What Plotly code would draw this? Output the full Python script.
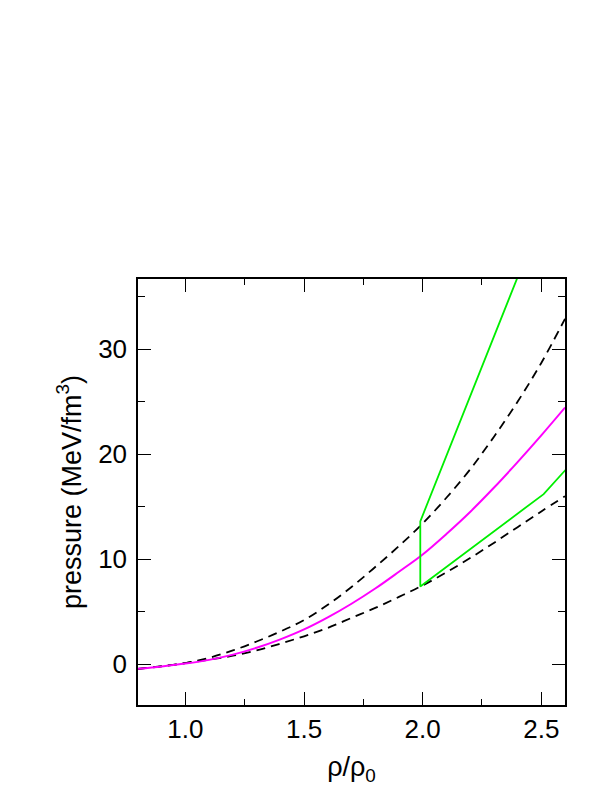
import plotly.graph_objects as go

# density grid (rho/rho0) for the smooth curves
rho = [0.8, 0.9, 1.0, 1.1, 1.2, 1.3, 1.4, 1.5, 1.6, 1.7, 1.8, 1.9,
       2.0, 2.1, 2.2, 2.3, 2.4, 2.5, 2.6]

# pressure in MeV/fm^3
p_mid = [-0.45, -0.22, 0.05, 0.4, 0.9, 1.55, 2.35, 3.3, 4.45, 5.75, 7.2, 8.8,
         10.45, 12.4, 14.5, 16.8, 19.25, 21.8, 24.45]
p_upper = [-0.45, -0.2, 0.1, 0.6, 1.3, 2.15, 3.1, 4.2, 5.65, 7.35, 9.25, 11.25,
           13.4, 15.85, 18.55, 21.65, 25.0, 28.7, 32.9]
p_lower = [-0.45, -0.22, 0.1, 0.42, 0.8, 1.3, 1.95, 2.65, 3.45, 4.4, 5.35, 6.4,
           7.5, 8.75, 10.1, 11.55, 13.05, 14.55, 16.0]

# green piecewise band (runs off the top / right edge)
green_rho = [2.45, 1.99, 1.99, 2.51, 2.65]
green_p = [39.7, 13.6, 7.4, 16.2, 19.7]

fig = go.Figure()

dash = dict(color='black', width=1.8, dash='9px,6px', shape='spline')
fig.add_trace(go.Scatter(x=rho, y=p_upper, mode='lines', line=dash))
fig.add_trace(go.Scatter(x=rho, y=p_lower, mode='lines', line=dash))
fig.add_trace(go.Scatter(x=rho, y=p_mid, mode='lines',
                         line=dict(color='#ff00ff', width=2, shape='spline')))
fig.add_trace(go.Scatter(x=green_rho, y=green_p, mode='lines',
                         line=dict(color='#00ee00', width=1.8)))

axis_style = dict(showline=True, linecolor='black', linewidth=1.5, mirror='ticks',
                  ticks='inside', tickcolor='black', tickwidth=1.3, ticklen=13,
                  showgrid=False, zeroline=False,
                  tickfont=dict(family='Liberation Sans', size=26, color='black'))

fig.update_xaxes(range=[0.8, 2.6], dtick=0.5, tick0=0, tickformat='.1f',
                 minor=dict(dtick=0.25, ticks='inside', ticklen=6, tickcolor='black', tickwidth=1.3),
                 title=dict(text='ρ/ρ<sub>0</sub>', standoff=14,
                            font=dict(family='Liberation Sans', size=27, color='black')),
                 **axis_style)
fig.update_yaxes(range=[-3.9, 36.7], dtick=10, tick0=0, ticklabelstandoff=4,
                 minor=dict(dtick=5, ticks='inside', ticklen=7, tickcolor='black', tickwidth=1.3),
                 title=dict(text='pressure (MeV/fm<sup>3</sup>)', standoff=9,
                            font=dict(family='Liberation Sans', size=27, color='black')),
                 **axis_style)

# the page body adds an 8px offset, margins compensate for it
fig.update_layout(width=614, height=795, showlegend=False,
                  plot_bgcolor='white', paper_bgcolor='white',
                  margin=dict(l=130, r=57, t=271, b=98))

fig.write_html("out.html")
